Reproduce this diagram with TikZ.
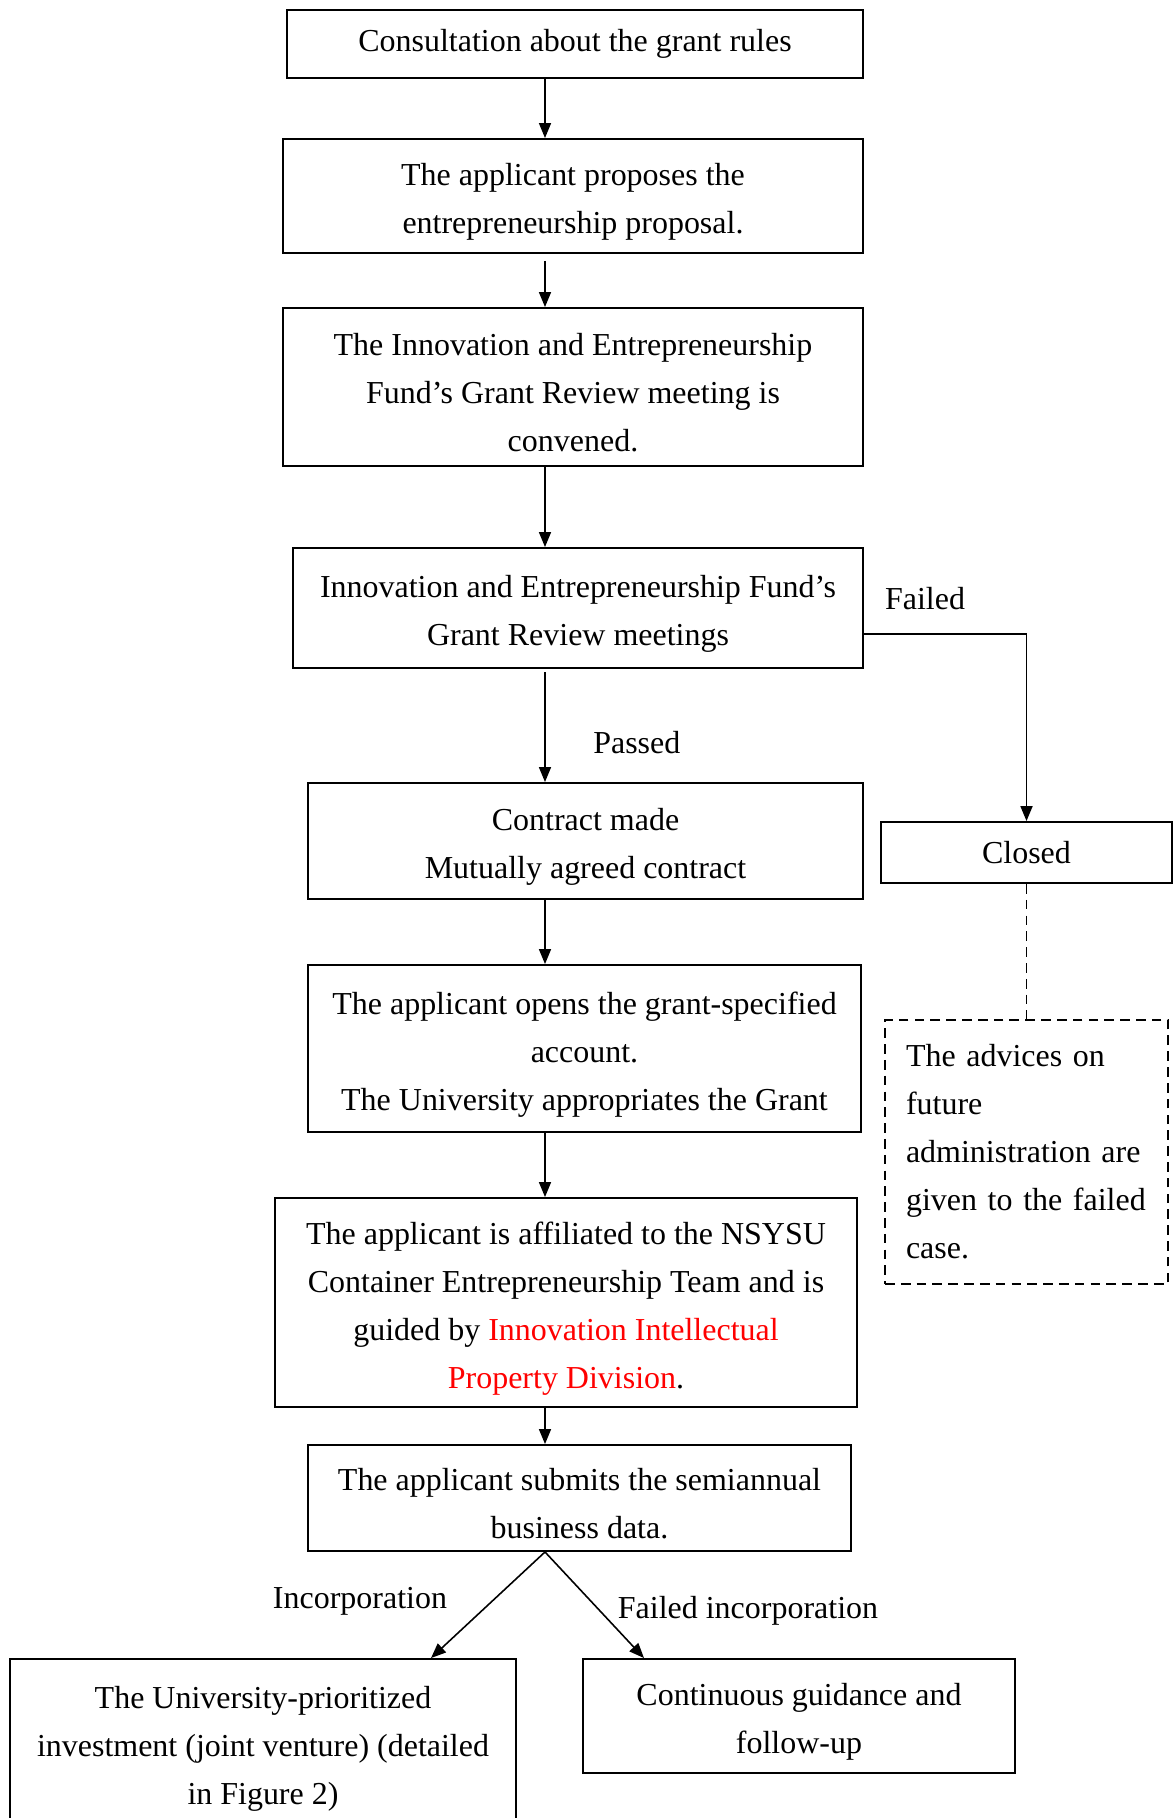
\documentclass[tikz,border=0pt]{standalone}
\usepackage{fontspec}
\setmainfont{Liberation Serif}
\usepackage{xcolor}
\usetikzlibrary{arrows.meta}

\newcommand{\topgap}{\rule{0pt}{19.4pt}}

\tikzset{
    box/.style={draw, line width=1.1pt, align=center, inner sep=0pt},
    advbox/.style={draw, dash pattern=on 5.5pt off 3.5pt, line width=1pt, align=left, inner sep=0pt, text width=4.82cm},
    arr/.style={-{Triangle[length=0.3cm,width=0.24cm]}, line width=0.9pt},
    lbl/.style={inner sep=0pt}
}

\begin{document}
\begin{tikzpicture}[x=0.02cm, y=-0.02cm, font=\fontsize{18.2}{27.3}\selectfont]
    \useasboundingbox (0,0) rectangle (1173,1818);
    \coordinate (ax) at (545,0);

    \node[box, minimum width=11.52cm, minimum height=1.36cm] (consult) at (575,44) {Consultation about the grant rules};
    \node[box, minimum width=11.6cm, minimum height=2.28cm] (propose) at (573,196) {\topgap The applicant proposes the\\entrepreneurship proposal.};
    \node[box, minimum width=11.6cm, minimum height=3.16cm] (convene) at (573,387) {\topgap The Innovation and Entrepreneurship\\Fund's Grant Review meeting is\\convened.};
    \node[box, minimum width=11.4cm, minimum height=2.4cm] (review) at (578,608) {\topgap Innovation and Entrepreneurship Fund's\\Grant Review meetings};
    \node[box, minimum width=11.1cm, minimum height=2.32cm] (contract) at (585.5,841) {\topgap Contract made\\Mutually agreed contract};
    \node[box, minimum width=5.82cm, minimum height=1.22cm] (closed) at (1026.5,852.5) {Closed};
    \node[box, minimum width=11.06cm, minimum height=3.34cm] (account) at (584.5,1048.5) {\topgap The applicant opens the grant-specified\\account.\\The University appropriates the Grant};
    \node[advbox, minimum width=5.66cm, minimum height=5.28cm] (advice) at (1026.5,1152) {The advices on\\future\\administration are\\given to the failed\\case.};
    \node[box, minimum width=11.64cm, minimum height=4.18cm] (team) at (566,1302.5) {\topgap The applicant is affiliated to the NSYSU\\Container Entrepreneurship Team and is\\guided by \textcolor{red}{Innovation Intellectual}\\\textcolor{red}{Property Division}.};
    \node[box, minimum width=10.86cm, minimum height=2.12cm] (data) at (579.5,1498) {\topgap The applicant submits the semiannual\\business data.};
    \node[box, minimum width=10.12cm, minimum height=3.36cm] (invest) at (263,1743) {\topgap The University-prioritized\\investment (joint venture) (detailed\\in Figure 2)};
    \node[box, minimum width=8.64cm, minimum height=2.28cm] (follow) at (799,1716) {\topgap Continuous guidance and\\follow-up};

    \coordinate (incl) at (431,0);
    \coordinate (fail) at (644,0);

    \draw[arr] (consult.south -| ax) -- (propose.north -| ax);
    \draw[arr, shorten <=4pt] (propose.south -| ax) -- (convene.north -| ax);
    \draw[arr] (convene.south -| ax) -- (review.north -| ax);
    \draw[arr, shorten <=2pt] (review.south -| ax) -- (contract.north -| ax) node[lbl, pos=0.6, right=0.95cm, yshift=-0.12cm] {Passed};
    \draw[arr, line width=1pt] ([yshift=-0.52cm]review.east) -| (closed.north);
    \draw[dash pattern=on 5.5pt off 3.5pt, line width=1pt] (closed.south) -- (advice.north);
    \draw[arr] (contract.south -| ax) -- (account.north -| ax);
    \draw[arr] (account.south -| ax) -- (team.north -| ax);
    \draw[arr] (team.south -| ax) -- (data.north -| ax);
    \draw[arr] (data.south -| ax) -- (invest.north -| incl);
    \draw[arr] (data.south -| ax) -- (follow.north -| fail);

    \node[lbl] (failed) at (925,599) {Failed};
    \node[lbl] (incorp) at (360,1601) {Incorporation};
    \node[lbl] (noincorp) at (748,1611) {Failed incorporation};
\end{tikzpicture}
\end{document}
